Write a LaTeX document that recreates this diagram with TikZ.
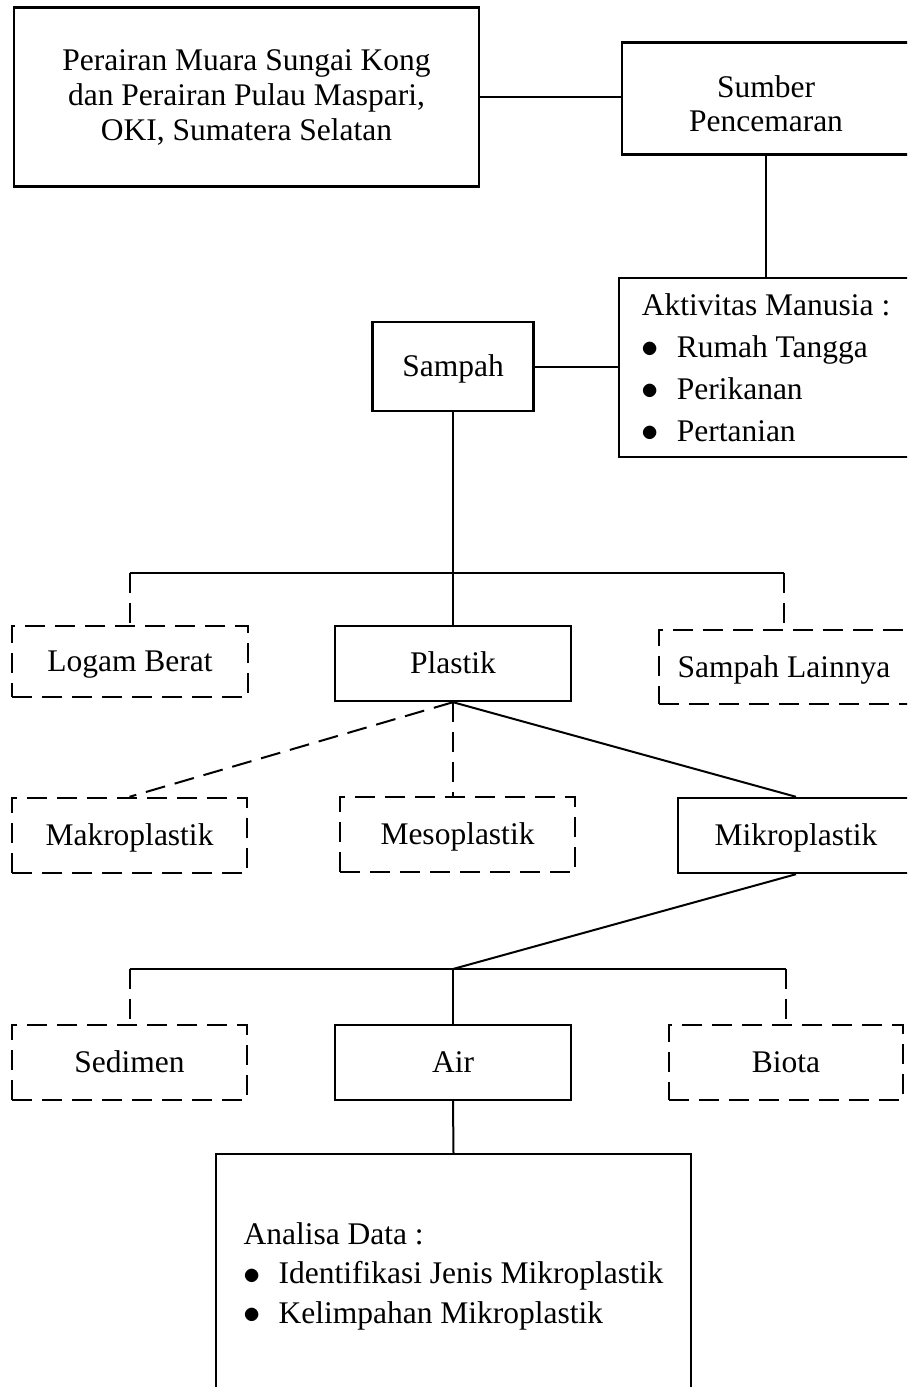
\documentclass[tikz,border=0pt]{standalone}
\usepackage{fontspec}
\setmainfont{Liberation Serif}
\usepackage{tikz}
\newcommand{\butir}[1]{\makebox[17.5pt][l]{\raisebox{-0.4pt}{\scalebox{1.2}{$\bullet$}}}#1}

\begin{document}
\begin{tikzpicture}[x=0.5pt,y=-0.5pt,
    kotak/.style={draw,line width=1.2pt,inner sep=0pt,align=center,font=\fontsize{15.75pt}{17.5pt}\selectfont},
    kotakputus/.style={kotak,dash pattern=on 10pt off 5pt},
    satubaris/.style={text height=12pt,text depth=2pt},
    garis/.style={line width=1pt},
    garisputus/.style={garis,dash pattern=on 10pt off 5pt}]
      \useasboundingbox (0,0) rectangle (907,1387);
      \clip (0,0) rectangle (907,1387);
      \node[kotak,minimum width=232.5pt,minimum height=89.5pt] (lokasi) at (246.5,97)
        {Perairan Muara Sungai Kong\\dan Perairan Pulau Maspari,\\OKI, Sumatera Selatan};
      \node[kotak,minimum width=144pt,minimum height=56pt,font=\fontsize{15.75pt}{17pt}\selectfont] (sumber) at (766,98.5)
        {\rule{0pt}{16pt}Sumber\\Pencemaran};
      \node[kotak,minimum width=147pt,minimum height=89.5pt,align=left,
        font=\fontsize{15.75pt}{21pt}\selectfont] (aktivitas) at (766,367.5)
        {Aktivitas Manusia :\\\butir{Rumah Tangga}\\\butir{Perikanan}\\\butir{Pertanian}};
      \node[kotak,satubaris,minimum width=80.5pt,minimum height=44.5pt] (sampah) at (453,366.5) {Sampah};
      \node[kotakputus,satubaris,minimum width=118pt,minimum height=35.5pt] (logam) at (130,661.5) {Logam Berat};
      \node[kotak,satubaris,minimum width=118pt,minimum height=37.5pt] (plastik) at (453,663.5) {Plastik};
      \node[kotakputus,satubaris,minimum width=125pt,minimum height=37pt] (lainnya) at (784,667) {Sampah Lainnya};
      \node[kotakputus,satubaris,minimum width=117.5pt,minimum height=37.5pt] (makro) at (129.5,835.5) {Makroplastik};
      \node[kotakputus,satubaris,minimum width=117.5pt,minimum height=37.5pt] (meso) at (457.5,834.5) {Mesoplastik};
      \node[kotak,satubaris,minimum width=118pt,minimum height=37.5pt] (mikro) at (796,835.5) {Mikroplastik};
      \node[kotakputus,satubaris,minimum width=117.5pt,minimum height=37.5pt] (sedimen) at (129.5,1062.5) {Sedimen};
      \node[kotak,satubaris,minimum width=118pt,minimum height=37.5pt] (air) at (453,1062.5) {Air};
      \node[kotakputus,satubaris,minimum width=117pt,minimum height=37.5pt] (biota) at (786,1062.5) {Biota};
      \node[kotak,anchor=north,minimum width=237.5pt,inner ysep=34pt,align=left,
        font=\fontsize{15.75pt}{19.75pt}\selectfont] (analisa) at (453.5,1153)
        {Analisa Data :\\\butir{Identifikasi Jenis Mikroplastik}\\\butir{Kelimpahan Mikroplastik}\rule[-8pt]{0pt}{8pt}};
      \coordinate (cabang1) at (453,573);
      \coordinate (cabang2) at (453,969);
      \draw[garis] (lokasi.east) -- (lokasi.east -| sumber.west);
      \draw[garis] (sumber.south) -- (aktivitas.north);
      \draw[garis] (sampah.east) -- (sampah.east -| aktivitas.west);
      \draw[garis] (sampah.south) -- (plastik.north);
      \draw[garis] (cabang1 -| logam.north) -- (cabang1 -| lainnya.north);
      \draw[garisputus] (cabang1 -| logam.north) -- (logam.north);
      \draw[garisputus] (cabang1 -| lainnya.north) -- (lainnya.north);
      \draw[garisputus] (plastik.south) -- (makro.north);
      \draw[garisputus] (plastik.south) -- (plastik.south |- meso.north);
      \draw[garis] (plastik.south) -- (mikro.north);
      \draw[garis] (mikro.south) -- (cabang2);
      \draw[garis] (cabang2 -| sedimen.north) -- (cabang2 -| biota.north);
      \draw[garisputus] (cabang2 -| sedimen.north) -- (sedimen.north);
      \draw[garis] (cabang2) -- (air.north);
      \draw[garisputus] (cabang2 -| biota.north) -- (biota.north);
      \draw[garis] (air.south) -- (analisa.north);
    \end{tikzpicture}
\end{document}
